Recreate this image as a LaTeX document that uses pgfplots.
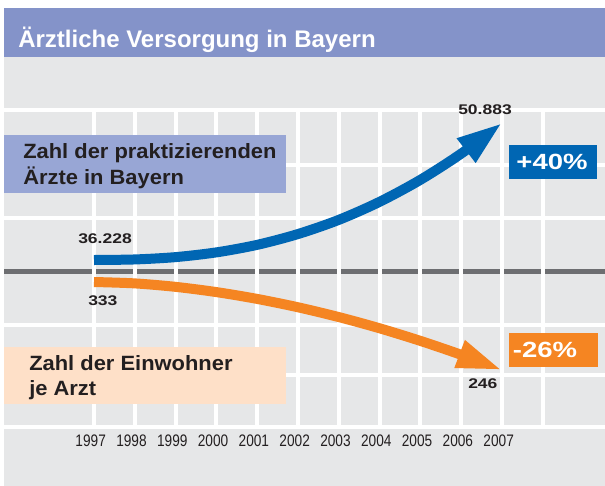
\documentclass[border=0pt]{standalone}
\usepackage{pgfplots}
\pgfplotsset{compat=1.18}
\usepackage{fontspec}
\setmainfont{Liberation Sans}
\newfontfamily\narrowfont[FakeStretch=0.82]{Liberation Sans}
\newfontfamily\widefont[FakeStretch=1.25]{Liberation Sans}
\newfontfamily\labelfont[FakeStretch=1.06]{Liberation Sans}
\usetikzlibrary{arrows.meta}
\definecolor{titlebar}{HTML}{8493C9}
\definecolor{panel}{HTML}{E6E7E8}
\definecolor{bluebox}{HTML}{98A6D5}
\definecolor{peach}{HTML}{FEE0C8}
\definecolor{dblue}{HTML}{0066B3}
\definecolor{dorange}{HTML}{F58522}
\definecolor{darkline}{HTML}{6D6E71}
\definecolor{txt}{HTML}{231F20}
\begin{document}
\begin{tikzpicture}
\begin{scope}[x=0.75pt,y=-0.75pt]
\path[use as bounding box] (0,0) rectangle (605,486);
\fill[titlebar] (4,8) rectangle (605,56.5);
\node[anchor=base west, inner sep=0pt, text=white, font=\bfseries\fontsize{18}{20}\selectfont] at (18,47) {Ärztliche Versorgung in Bayern};
\fill[panel] (4,56.5) rectangle (605,486);
\foreach \yy in {110,165,218,325,375,427} {\draw[white, line width=3.5pt] (4,\yy) -- (605,\yy);}
\draw[darkline, line width=3.75pt] (4,271) -- (605,271);
\end{scope}

\begin{axis}[at={(3pt,-320.25pt)}, anchor=south west, scale only axis,
  width=450.75pt, height=237.75pt,
  xmin=1994.794, xmax=2009.5245, ymin=18364, ymax=52273.5,
  axis line style={draw=none}, major tick length=0pt,
  ytick=\empty,
  xtick={1997,1998,1999,2000,2001,2002,2003,2004,2005,2006,2007,2008},
  xticklabels={1997,1998,1999,2000,2001,2002,2003,2004,2005,2006,2007,{}},
  xticklabel style={font=\narrowfont\fontsize{12.5}{13}\selectfont, text=txt, xshift=-2.5pt, yshift=-2.5pt},
  xmajorgrids, grid style={white, line width=3pt},
  clip=false]
\addplot[dblue, line width=7.5pt, smooth, -{Triangle[length=34pt,width=21pt]}] coordinates {
 (1997,36228) (1998,36287) (1999,36536) (2000,37044) (2001,37849) (2002,39005)
 (2003,40522) (2004,42452) (2005,44806) (2006,47610) (2007,50883)};
\end{axis}

\begin{axis}[at={(3pt,-320.25pt)}, anchor=south west, scale only axis,
  width=450.75pt, height=237.75pt,
  xmin=1994.794, xmax=2009.5245, ymin=189.65, ymax=503.05,
  hide axis, clip=false]
\addplot[dorange, line width=7.5pt, smooth, -{Triangle[length=34pt,width=20pt]}] coordinates {
 (1997,333) (1998,331.63) (1999,328.20) (2000,323.03) (2001,316.27) (2002,308.02)
 (2003,298.33) (2004,287.25) (2005,274.79) (2006,261.03) (2007,246)};
\end{axis}

\begin{scope}[x=0.75pt,y=-0.75pt]
\fill[bluebox] (4,135) rectangle (286,193);
\node[anchor=base west, inner sep=0pt, text=txt, font=\labelfont\bfseries\fontsize{15.5}{17}\selectfont] at (23,158) {Zahl der praktizierenden};
\node[anchor=base west, inner sep=0pt, text=txt, font=\labelfont\bfseries\fontsize{15.5}{17}\selectfont] at (23,184) {Ärzte in Bayern};
\fill[peach] (4,347) rectangle (286,404);
\node[anchor=base west, inner sep=0pt, text=txt, font=\labelfont\bfseries\fontsize{15.5}{17}\selectfont] at (29,370) {Zahl der Einwohner};
\node[anchor=base west, inner sep=0pt, text=txt, font=\labelfont\bfseries\fontsize{15.5}{17}\selectfont] at (29,395) {je Arzt};
\node[anchor=base west, inner sep=0pt, text=txt, font=\widefont\bfseries\fontsize{10.5}{12}\selectfont] at (78,243) {36.228};
\node[anchor=base west, inner sep=0pt, text=txt, font=\widefont\bfseries\fontsize{10.5}{12}\selectfont] at (88,305) {333};
\node[anchor=base west, inner sep=0pt, text=txt, font=\widefont\bfseries\fontsize{10.5}{12}\selectfont] at (458,114) {50.883};
\node[anchor=base west, inner sep=0pt, text=txt, font=\widefont\bfseries\fontsize{10.5}{12}\selectfont] at (468,388) {246};
\fill[dblue] (509,145) rectangle (597,179);
\node[anchor=base, inner sep=0pt, text=white, font=\widefont\bfseries\fontsize{16.5}{18}\selectfont] at (552,169) {+40\%};
\fill[dorange] (509,333) rectangle (598,367);
\node[anchor=base, inner sep=0pt, text=white, font=\widefont\bfseries\fontsize{16.5}{18}\selectfont] at (545,357) {-26\%};
\end{scope}
\end{tikzpicture}
\end{document}
